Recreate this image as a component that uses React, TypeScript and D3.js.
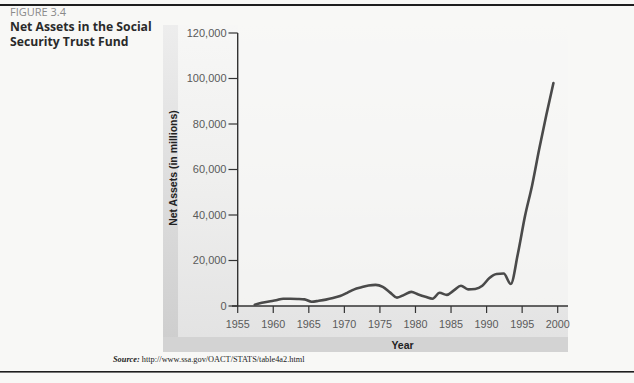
import React from "react";
import * as d3 from "d3";

const years: number[] = [
  1957, 1958, 1959, 1960, 1961, 1962, 1963, 1964, 1965, 1966, 1967, 1968, 1969,
  1970, 1971, 1972, 1973, 1974, 1975, 1976, 1977, 1978, 1979, 1980, 1981, 1982,
  1983, 1984, 1985, 1986, 1987, 1988, 1989, 1990, 1991, 1992, 1993, 1994, 1995,
  1996, 1997, 1998, 1999,
];
const netAssets: number[] = [
  600, 1400, 2000, 2500, 3200, 3200, 3100, 2900, 1900, 2300, 2800, 3500, 4400,
  5800, 7300, 8200, 9000, 9300, 8400, 6000, 3700, 4900, 6200, 5100, 4100, 3200,
  5800, 4900, 6900, 8900, 7300, 7500, 8900, 12300, 14100, 14300, 9700, 23000, 39500,
  53000, 69000, 84000, 98000,
];
const yTicks: number[] = [0, 20000, 40000, 60000, 80000, 100000, 120000];
const xTicks: number[] = [1955, 1960, 1965, 1970, 1975, 1980, 1985, 1990, 1995, 2000];

const figureLabel = "FIGURE 3.4";
const titleLines = ["Net Assets in the Social", "Security Trust Fund"];
const yTitle = "Net Assets (in millions)";
const xTitle = "Year";
const sourceLabel = "Source:";
const sourceUrl = " http://www.ssa.gov/OACT/STATS/table4a2.html";

export default function App() {
  const W = 634;
  const H = 383;
  const x = d3.scaleLinear().domain([1955, 2000]).range([237.7, 557.7]);
  const y = d3.scaleLinear().domain([0, 120000]).range([306, 33]);
  const midYear = 0.4;
  const data = years.map((yr, i) => ({ yr, v: netAssets[i] }));
  const line = d3
    .line<{ yr: number; v: number }>()
    .x((d) => x(d.yr + midYear))
    .y((d) => y(d.v))
    .curve(d3.curveMonotoneX);
  const fmt = d3.format(",");
  const sans = "'Liberation Sans', Arial, sans-serif";

  return (
    <svg
      width={W}
      height={H}
      style={{ position: "absolute", left: 0, top: 0, background: "#f8f8f6" }}
    >
      <defs>
        <linearGradient id="barGrad" x1="0" y1="0" x2="0" y2="1">
          <stop offset="0" stopColor="#ededed" />
          <stop offset="1" stopColor="#cdcdcd" />
        </linearGradient>
        <linearGradient id="panelGrad" x1="0" y1="0" x2="0" y2="1">
          <stop offset="0" stopColor="#f7f7f6" />
          <stop offset="0.5" stopColor="#efefee" />
          <stop offset="1" stopColor="#e3e3e3" />
        </linearGradient>
      </defs>
      <rect x={0} y={0} width={W} height={H} fill="#f8f8f6" />
      {/* rules */}
      <rect x={0} y={4} width={W} height={2} fill="#1e1e1e" />
      <rect x={0} y={371} width={W} height={1.6} fill="#1e1e1e" />

      {/* title */}
      <text x={10} y={15.5} fontFamily="'Open Sans', sans-serif" fontSize={11} fill="#8a8a8a">
        {figureLabel}
      </text>
      {titleLines.map((t, i) => (
        <text
          key={t}
          x={10}
          y={30.5 + i * 15.5}
          fontFamily="'Open Sans', sans-serif"
          fontWeight="bold"
          fontSize={12.2}
          fill="#2a2a2a"
        >
          {t}
        </text>
      ))}

      {/* gray frame */}
      <rect x={178} y={25} width={390} height={312} fill="url(#panelGrad)" />
      <rect x={237.7} y={25} width={330.3} height={281} fill="#f8f8f6" opacity={0.7} />
      <rect x={163} y={25} width={15} height={327} fill="url(#barGrad)" />
      <rect x={163} y={337} width={405} height={15} fill="#d3d3d3" />

      {/* y axis */}
      <line x1={237.7} x2={237.7} y1={33} y2={306} stroke="#333" strokeWidth={1.4} />
      {yTicks.map((t) => (
        <g key={t}>
          <line x1={228.5} x2={237.7} y1={y(t)} y2={y(t)} stroke="#333" strokeWidth={1.2} />
          <text
            x={226.5}
            y={y(t)}
            dy="0.35em"
            textAnchor="end"
            fontFamily={sans}
            fontSize={11}
            fill="#5a5a5a"
          >
            {fmt(t)}
          </text>
        </g>
      ))}
      {/* x axis */}
      <line x1={232} x2={568} y1={306} y2={306} stroke="#333" strokeWidth={1.6} />
      {xTicks.map((t) => (
        <g key={t}>
          <line x1={x(t)} x2={x(t)} y1={306} y2={313} stroke="#333" strokeWidth={1.2} />
          <text
            x={x(t)}
            y={328}
            textAnchor="middle"
            fontFamily={sans}
            fontSize={10.8}
            fill="#5a5a5a"
          >
            {t}
          </text>
        </g>
      ))}

      {/* axis titles */}
      <text
        transform={`translate(176.5,168) rotate(-90)`}
        textAnchor="middle"
        fontFamily={sans}
        fontWeight="bold"
        fontSize={10.5}
        fill="#222"
      >
        {yTitle}
      </text>
      <text
        x={402.5}
        y={349}
        textAnchor="middle"
        fontFamily={sans}
        fontWeight="bold"
        fontSize={10.5}
        fill="#222"
      >
        {xTitle}
      </text>

      {/* data line */}
      <path
        d={line(data) || ""}
        fill="none"
        stroke="#4a4a4a"
        strokeWidth={2.6}
        strokeLinejoin="round"
        strokeLinecap="round"
      />

      {/* source */}
      <text x={113} y={361.5} fontFamily="'Liberation Serif', 'Times New Roman', serif" fontSize={8.3} fill="#222">
        <tspan fontWeight="bold" fontStyle="italic">
          {sourceLabel}
        </tspan>
        <tspan>{sourceUrl}</tspan>
      </text>
    </svg>
  );
}
